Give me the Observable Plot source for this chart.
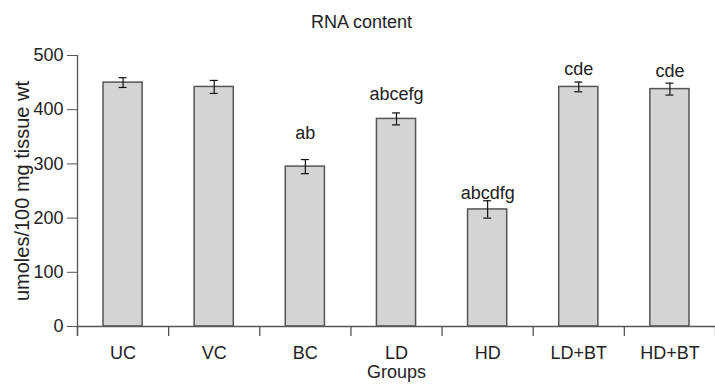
<!DOCTYPE html>
<html>
<head>
<meta charset="utf-8">
<script src="https://cdn.jsdelivr.net/npm/d3@7"></script>
<script src="https://cdn.jsdelivr.net/npm/@observablehq/plot@0.6"></script>
<style>
  html, body { margin: 0; padding: 0; background: white; }
</style>
</head>
<body>
<div id="chart"></div>
<script>
const groups = ["UC", "VC", "BC", "LD", "HD", "LD+BT", "HD+BT"];
const means = [450, 442, 295, 383, 216, 442, 438];
const errors = [9, 12, 13, 11, 16, 9, 11];
const letters = ["", "", "ab", "abcefg", "abcdfg", "cde", "cde"];
const letterY = [null, null, 356, 429, 246, 475, 471];
const yTicks = [0, 100, 200, 300, 400, 500];
const title = "RNA content";
const yLabel = "umoles/100 mg tissue wt";
const xLabel = "Groups";

const data = groups.map((g, i) => ({
  g, i, mean: means[i], err: errors[i], letter: letters[i], ly: letterY[i]
}));
const boundaries = d3.range(groups.length + 1);

const chart = Plot.plot({
  width: 715,
  height: 388,
  marginTop: 55,
  marginBottom: 62,
  marginLeft: 77,
  marginRight: 0,
  style: { fontFamily: "'Liberation Sans', Arial, sans-serif", fontSize: "17px", color: "#222", background: "white" },
  x: { domain: [0, groups.length], axis: null },
  y: { domain: [0, 500], axis: null },
  marks: [
    Plot.rectY(data, {
      x1: "i", x2: d => d.i + 1, y: "mean",
      insetLeft: 26, insetRight: 26,
      fill: "#d3d4d6", stroke: "#555", strokeWidth: 1.5
    }),
    Plot.ruleX(data, { x: d => d.i + 0.5, y1: d => d.mean - d.err, y2: d => d.mean + d.err, stroke: "#111", strokeWidth: 1.2 }),
    Plot.ruleY(data, { y: d => d.mean + d.err, x1: d => d.i + 0.5, x2: d => d.i + 0.5, insetLeft: -4, insetRight: -4, stroke: "#111", strokeWidth: 1.2 }),
    Plot.ruleY(data, { y: d => d.mean - d.err, x1: d => d.i + 0.5, x2: d => d.i + 0.5, insetLeft: -4, insetRight: -4, stroke: "#111", strokeWidth: 1.2 }),
    Plot.text(data.filter(d => d.letter), { x: d => d.i + 0.5, y: "ly", text: "letter", fontSize: 18, fill: "#222", lineAnchor: "middle" }),
    // axis lines
    Plot.ruleY([0], { stroke: "#555", strokeWidth: 1.3 }),
    Plot.ruleX([0], { insetBottom: -10, stroke: "#555", strokeWidth: 1.3 }),
    // x boundary ticks
    Plot.ruleX(boundaries, { x: d => d, y1: 0, y2: 0, insetBottom: -10, stroke: "#555", strokeWidth: 1.3 }),
    // y axis
    Plot.axisY({ ticks: yTicks, tickSize: 10, tickPadding: 4, fontSize: 18, stroke: "#555", fill: "#222", label: null }),
    // x labels
    Plot.text(data, { x: d => d.i + 0.5, text: "g", frameAnchor: "bottom", lineAnchor: "middle", dy: 27, fontSize: 18, fill: "#222" }),
    Plot.text([xLabel], { text: d => d, frameAnchor: "bottom", lineAnchor: "middle", textAnchor: "middle", dy: 46, fontSize: 18, fill: "#222" }),
    Plot.text([yLabel], { text: d => d, frameAnchor: "left", lineAnchor: "middle", textAnchor: "middle", dx: -55, rotate: -90, fontSize: 20, fill: "#222" }),
    Plot.text([title], { text: d => d, frameAnchor: "top", lineAnchor: "middle", textAnchor: "middle", dx: -35, dy: -33, fontSize: 18, fill: "#222" })
  ]
});
document.getElementById("chart").appendChild(chart);
</script>
</body>
</html>
